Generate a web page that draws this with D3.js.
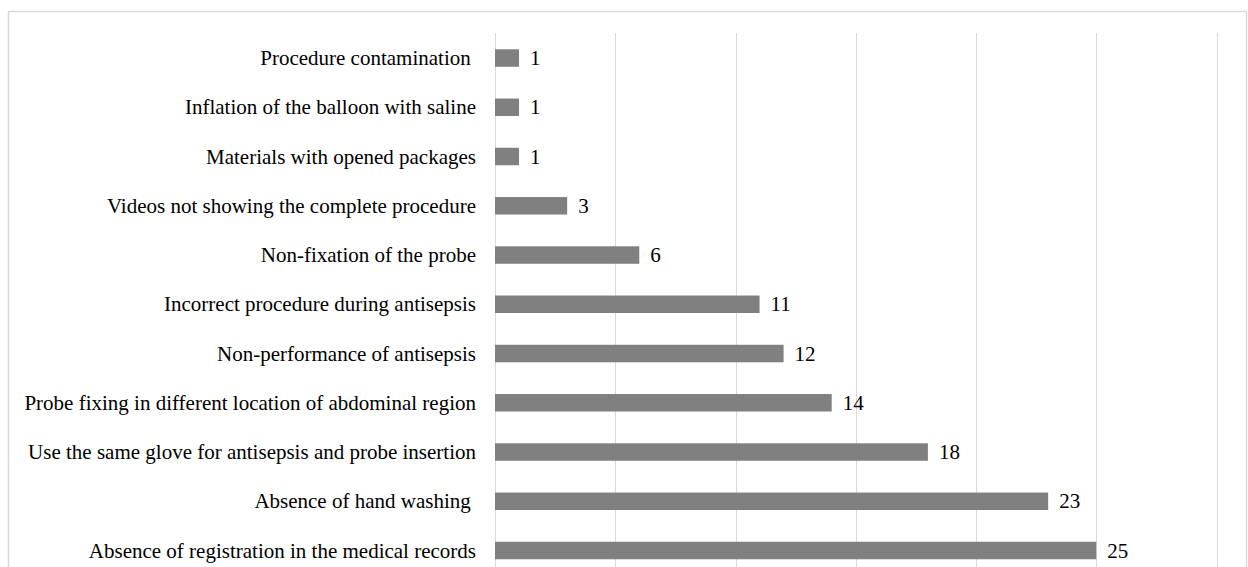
<!DOCTYPE html>
<html lang="en">
<head>
    <meta charset="UTF-8">
    <title>Failures in probe insertion procedure</title>
    <script src="https://cdn.jsdelivr.net/npm/d3@7/dist/d3.min.js"></script>
    <style>
        body { margin: 0; background: #fff; }
        svg { display: block; font-family: "Liberation Serif", "Times New Roman", serif; }
        .label { font-size: 21px; fill: #000; white-space: pre; }
    </style>
</head>
<body>
    <svg id="chart" width="1248" height="567"></svg>
    <script>
        // categories top to bottom, as in the figure
        const categories = [
            "Procedure contamination ",
            "Inflation of the balloon with saline",
            "Materials with opened packages",
            "Videos not showing the complete procedure",
            "Non-fixation of the probe",
            "Incorrect procedure during antisepsis",
            "Non-performance of antisepsis",
            "Probe fixing in different location of abdominal region",
            "Use the same glove for antisepsis and probe insertion",
            "Absence of hand washing ",
            "Absence of registration in the medical records"
        ];
        const counts = [1, 1, 1, 3, 6, 11, 12, 14, 18, 23, 25];
        const gridTicks = [0, 5, 10, 15, 20, 25, 30];

        const svg = d3.select("#chart");

        // outer chart frame (bottom is cut off in the original)
        svg.append("rect")
            .attr("x", 8.5).attr("y", 11.5)
            .attr("width", 1238).attr("height", 600)
            .attr("fill", "none")
            .attr("stroke", "#d9d9d9")
            .attr("stroke-width", 1.5);

        const x = d3.scaleLinear().domain([0, 30]).range([495, 1216.5]);
        const y = d3.scaleBand()
            .domain(categories)
            .range([33.4, 33.4 + 49.25 * categories.length])
            .paddingInner(0.645)
            .paddingOuter(0.3225);

        svg.append("g")
            .selectAll("line")
            .data(gridTicks)
            .join("line")
            .attr("x1", d => Math.round(x(d)) + 0.5)
            .attr("x2", d => Math.round(x(d)) + 0.5)
            .attr("y1", 33)
            .attr("y2", 600)
            .attr("stroke", "#d9d9d9")
            .attr("stroke-width", 1);

        const data = categories.map((c, i) => ({ cat: c, val: counts[i] }));

        svg.append("g")
            .selectAll("rect")
            .data(data)
            .join("rect")
            .attr("x", x(0))
            .attr("y", d => y(d.cat))
            .attr("width", d => x(d.val) - x(0))
            .attr("height", y.bandwidth())
            .attr("fill", "#808080");

        // category labels
        svg.append("g")
            .selectAll("text")
            .data(data)
            .join("text")
            .attr("class", "label")
            .attr("x", 476)
            .attr("y", d => y(d.cat) + y.bandwidth() / 2 + 7)
            .attr("text-anchor", "end")
            .text(d => d.cat);

        // value labels
        svg.append("g")
            .selectAll("text")
            .data(data)
            .join("text")
            .attr("class", "label")
            .attr("x", d => x(d.val) + 11)
            .attr("y", d => y(d.cat) + y.bandwidth() / 2 + 7)
            .text(d => d.val);
    </script>
</body>
</html>
